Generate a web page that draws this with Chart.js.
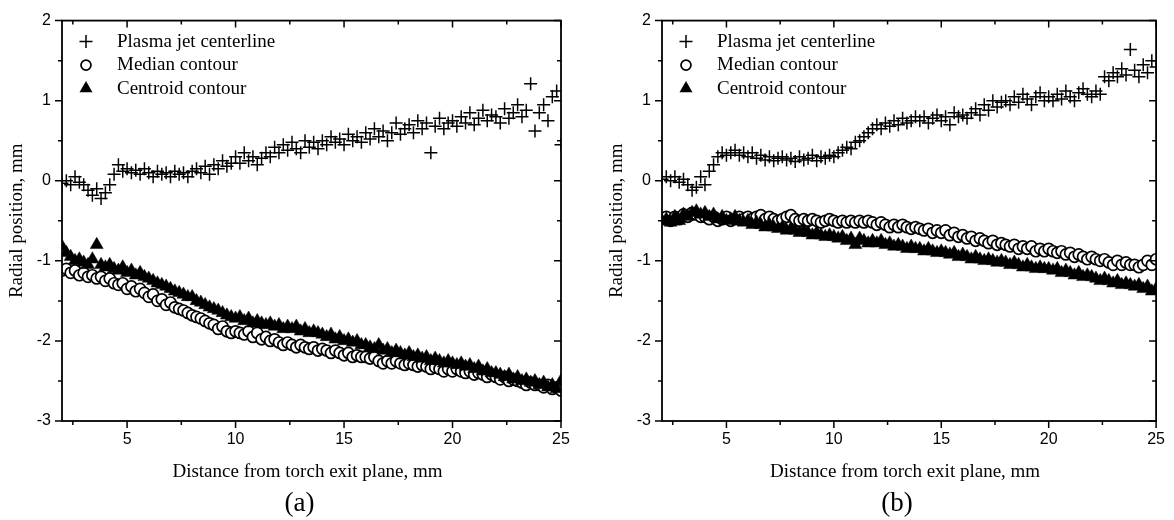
<!DOCTYPE html>
<html>
<head>
<meta charset="utf-8">
<script src="https://cdn.jsdelivr.net/npm/chart.js@4.4.1/dist/chart.umd.min.js"></script>
<style>
  body { margin: 0; background: #fff; }
  #wrap { position: relative; width: 1174px; height: 520px; }
  canvas { position: absolute; top: 0; }
</style>
</head>
<body>
<div id="wrap">
  <canvas id="chartA" width="600" height="520" style="left:0"></canvas>
  <canvas id="chartB" width="574" height="520" style="left:600px"></canvas>
</div>
<script>
// distance from torch exit plane, mm (shared by all series)
const dist = [
  2, 2.2, 2.4, 2.6, 2.8, 3, 3.2, 3.4, 3.6, 3.8,
  4, 4.2, 4.4, 4.6, 4.8, 5, 5.2, 5.4, 5.6, 5.8,
  6, 6.2, 6.4, 6.6, 6.8, 7, 7.2, 7.4, 7.6, 7.8,
  8, 8.2, 8.4, 8.6, 8.8, 9, 9.2, 9.4, 9.6, 9.8,
  10, 10.2, 10.4, 10.6, 10.8, 11, 11.2, 11.4, 11.6, 11.8,
  12, 12.2, 12.4, 12.6, 12.8, 13, 13.2, 13.4, 13.6, 13.8,
  14, 14.2, 14.4, 14.6, 14.8, 15, 15.2, 15.4, 15.6, 15.8,
  16, 16.2, 16.4, 16.6, 16.8, 17, 17.2, 17.4, 17.6, 17.8,
  18, 18.2, 18.4, 18.6, 18.8, 19, 19.2, 19.4, 19.6, 19.8,
  20, 20.2, 20.4, 20.6, 20.8, 21, 21.2, 21.4, 21.6, 21.8,
  22, 22.2, 22.4, 22.6, 22.8, 23, 23.2, 23.4, 23.6, 23.8,
  24, 24.2, 24.4, 24.6, 24.8, 25
];

// panel (a)
const centerA = [
  -0.03, 0, -0.05, 0.05, -0.02, -0.05, -0.12, -0.18, -0.1, -0.22,
  -0.15, -0.05, 0.08, 0.2, 0.12, 0.15, 0.1, 0.13, 0.08, 0.15,
  0.1, 0.05, 0.12, 0.08, 0.1, 0.05, 0.12, 0.08, 0.1, 0.05,
  0.12, 0.15, 0.1, 0.18, 0.08, 0.2, 0.15, 0.25, 0.18, 0.22,
  0.3, 0.22, 0.35, 0.25, 0.3, 0.2, 0.28, 0.35, 0.3, 0.42,
  0.35, 0.45, 0.38, 0.48, 0.4, 0.35, 0.5, 0.42, 0.48, 0.4,
  0.5, 0.45, 0.55, 0.48, 0.52, 0.45, 0.58, 0.5, 0.55, 0.48,
  0.6, 0.52, 0.65, 0.55, 0.62, 0.5, 0.6, 0.72, 0.58, 0.65,
  0.7, 0.6, 0.75, 0.65, 0.72, 0.35, 0.68, 0.78, 0.65, 0.72,
  0.75, 0.68, 0.8, 0.72, 0.85, 0.7, 0.78, 0.88, 0.75, 0.82,
  0.8, 0.72, 0.9, 0.78, 0.85, 0.95, 0.8, 0.88, 1.21, 0.62,
  0.85, 0.95, 0.75, 1.05, 1.12, 0.45
];
const medianA = [
  -1.12, -1.1, -1.15, -1.12, -1.18, -1.15, -1.2, -1.18, -1.22, -1.2,
  -1.25, -1.22, -1.28, -1.3, -1.28, -1.35, -1.32, -1.38, -1.35, -1.4,
  -1.45, -1.42, -1.5, -1.48, -1.55, -1.52, -1.58, -1.6, -1.62, -1.65,
  -1.68, -1.7, -1.72, -1.75, -1.78, -1.8, -1.85, -1.82, -1.88, -1.9,
  -1.88, -1.9, -1.92, -1.88, -1.95, -1.9, -1.98, -1.95, -2.0, -1.98,
  -2.02, -2.05, -2.02, -2.05, -2.08, -2.05, -2.08, -2.1, -2.08, -2.12,
  -2.1, -2.12, -2.15, -2.12, -2.15, -2.18, -2.15, -2.2, -2.18, -2.2,
  -2.2, -2.22, -2.2, -2.25, -2.28, -2.25, -2.28, -2.25, -2.28, -2.3,
  -2.28, -2.3, -2.32, -2.3, -2.32, -2.35, -2.33, -2.35, -2.38, -2.35,
  -2.38, -2.35, -2.38, -2.4, -2.38, -2.42, -2.4, -2.42, -2.45, -2.42,
  -2.45, -2.48, -2.45, -2.5, -2.48, -2.5, -2.52, -2.55, -2.52, -2.55,
  -2.55, -2.58, -2.55, -2.6, -2.58, -2.62
];
const centroidA = [
  -0.82, -0.9, -0.95, -1.0, -0.98, -1.02, -1.05, -0.98, -0.8, -1.05,
  -1.08, -1.05, -1.1, -1.12, -1.08, -1.15, -1.12, -1.18, -1.15, -1.2,
  -1.22, -1.25, -1.28, -1.3, -1.32, -1.35, -1.38, -1.4, -1.42, -1.45,
  -1.45, -1.5, -1.52, -1.55, -1.58, -1.6, -1.62, -1.65, -1.68, -1.7,
  -1.72, -1.7, -1.75, -1.72, -1.78, -1.75, -1.78, -1.8, -1.78, -1.82,
  -1.8, -1.85, -1.82, -1.85, -1.82, -1.88, -1.85, -1.9, -1.88, -1.9,
  -1.92, -1.95, -1.92, -1.98, -1.95, -2.0, -1.98, -2.02, -2.0, -2.05,
  -2.05, -2.08, -2.1, -2.05, -2.12, -2.1, -2.15, -2.12, -2.15, -2.18,
  -2.15, -2.2, -2.18, -2.22, -2.2, -2.25, -2.22, -2.25, -2.28, -2.25,
  -2.28, -2.3, -2.28, -2.32, -2.3, -2.35, -2.32, -2.38, -2.35, -2.4,
  -2.4, -2.42, -2.45, -2.42, -2.48, -2.45, -2.5, -2.48, -2.52, -2.5,
  -2.55, -2.52, -2.58, -2.55, -2.6, -2.5
];

// panel (b)
const centerB = [
  0.02, 0.05, 0, 0.05, -0.02, 0.02, -0.05, -0.12, -0.08, 0.05,
  -0.05, 0.12, 0.2, 0.3, 0.35, 0.32, 0.35, 0.38, 0.32, 0.35,
  0.3, 0.35, 0.28, 0.32, 0.26, 0.3, 0.25, 0.28, 0.3, 0.26,
  0.28, 0.24, 0.3, 0.26, 0.28, 0.32, 0.25, 0.3, 0.28, 0.32,
  0.3, 0.35, 0.38, 0.42, 0.4, 0.48, 0.5, 0.55, 0.6, 0.65,
  0.7, 0.65, 0.72, 0.68, 0.75, 0.7, 0.78, 0.72, 0.75, 0.8,
  0.75, 0.8, 0.72, 0.78, 0.82, 0.75, 0.8, 0.7, 0.85, 0.8,
  0.82, 0.78, 0.85, 0.9, 0.82, 0.95, 0.88, 1.0, 0.92, 0.98,
  1.0, 0.95, 1.05, 0.98, 1.08, 1.02, 0.95, 1.05, 1.1, 1.0,
  1.05, 1.0, 1.08, 1.02, 1.12, 1.05, 1.0, 1.1, 1.15, 1.08,
  1.05, 1.12, 1.08, 1.3, 1.25, 1.35, 1.3, 1.4, 1.32, 1.64,
  1.38, 1.3, 1.45, 1.35, 1.5, 1.42
];
const medianB = [
  -0.48, -0.45, -0.5, -0.45, -0.48, -0.42, -0.45, -0.4, -0.42, -0.45,
  -0.45, -0.48, -0.45, -0.5, -0.48, -0.45, -0.5, -0.48, -0.45, -0.48,
  -0.45, -0.48, -0.45, -0.43, -0.48, -0.45, -0.48, -0.5, -0.48, -0.45,
  -0.43, -0.48, -0.5, -0.48, -0.5, -0.48, -0.5, -0.52, -0.5, -0.48,
  -0.5, -0.52, -0.5, -0.52, -0.5, -0.52, -0.5, -0.52, -0.5, -0.52,
  -0.55, -0.52, -0.55, -0.58, -0.55, -0.58, -0.55, -0.58, -0.6, -0.58,
  -0.6, -0.62, -0.6, -0.65, -0.62, -0.65, -0.62, -0.68, -0.65, -0.7,
  -0.68, -0.72, -0.7, -0.75, -0.72, -0.75, -0.78, -0.75, -0.8, -0.78,
  -0.8, -0.82, -0.8, -0.85, -0.82, -0.85, -0.82, -0.88, -0.85, -0.88,
  -0.85, -0.88, -0.9, -0.88, -0.92, -0.9, -0.95, -0.92, -0.95, -0.98,
  -0.95, -0.98, -1.0, -0.98, -1.02, -1.05, -1.0, -1.05, -1.02, -1.05,
  -1.05, -1.08, -1.05, -1.0, -1.05, -0.98
];
const centroidB = [
  -0.5, -0.48, -0.52, -0.45, -0.5, -0.42, -0.45, -0.4, -0.38, -0.42,
  -0.4, -0.45, -0.42, -0.48, -0.45, -0.5, -0.48, -0.45, -0.5, -0.52,
  -0.5, -0.55, -0.52, -0.55, -0.58, -0.55, -0.58, -0.6, -0.58, -0.62,
  -0.6, -0.62, -0.65, -0.62, -0.65, -0.68, -0.65, -0.68, -0.7, -0.68,
  -0.7, -0.72, -0.7, -0.75, -0.72, -0.8, -0.72, -0.75, -0.78, -0.75,
  -0.78, -0.75, -0.8, -0.78, -0.82, -0.8, -0.82, -0.85, -0.82, -0.85,
  -0.85, -0.88, -0.85, -0.88, -0.9, -0.88, -0.9, -0.92, -0.9, -0.95,
  -0.92, -0.95, -0.98, -0.95, -0.98, -1.0, -0.98, -1.0, -1.02, -1.0,
  -1.02, -1.05, -1.02, -1.05, -1.08, -1.05, -1.08, -1.1, -1.08, -1.1,
  -1.1, -1.12, -1.1, -1.15, -1.12, -1.15, -1.18, -1.15, -1.2, -1.18,
  -1.2, -1.22, -1.25, -1.22, -1.25, -1.28, -1.25, -1.3, -1.28, -1.3,
  -1.32, -1.3, -1.35, -1.32, -1.38, -1.35
];

const xTicks = [5, 10, 15, 20, 25];
const xMinor = [2.5, 7.5, 12.5, 17.5, 22.5];
const yTicks = [-3, -2, -1, 0, 1, 2];
const yMinor = [-2.5, -1.5, -0.5, 0.5, 1.5];
const seriesNames = ['Plasma jet centerline', 'Median contour', 'Centroid contour'];
const xTitle = 'Distance from torch exit plane, mm';
const yTitle = 'Radial position, mm';

const serif = '"Liberation Serif", "Times New Roman", serif';
const sans = '"Liberation Sans", Arial, sans-serif';

function pts(ys) {
  return dist.map((d, i) => ({ x: d, y: ys[i] }));
}

// marker shapes for the hand-drawn legend
function drawMarker(ctx, kind, x, y) {
  ctx.beginPath();
  if (kind === 0) {
    ctx.lineWidth = 1.5;
    ctx.moveTo(x - 6.5, y); ctx.lineTo(x + 6.5, y);
    ctx.moveTo(x, y - 6.5); ctx.lineTo(x, y + 6.5);
    ctx.stroke();
  } else if (kind === 1) {
    ctx.lineWidth = 1.7;
    ctx.arc(x, y, 5, 0, Math.PI * 2);
    ctx.fillStyle = '#fff'; ctx.fill(); ctx.stroke();
  } else {
    const r = 7.5;
    ctx.moveTo(x, y - r);
    ctx.lineTo(x + r * 0.866, y + r * 0.5);
    ctx.lineTo(x - r * 0.866, y + r * 0.5);
    ctx.closePath();
    ctx.fillStyle = '#000'; ctx.fill();
  }
}

const decorPlugin = {
  id: 'decor',
  afterDatasetsDraw(chart, args, opts) {
    const { ctx, chartArea: a, scales: { x, y } } = chart;
    ctx.save();
    ctx.strokeStyle = '#000';
    ctx.lineWidth = 1.8;
    ctx.strokeRect(a.left, a.top, a.right - a.left, a.bottom - a.top);

    // bottom/left ticks outward, top/right ticks inward
    ctx.lineWidth = 1.5;
    ctx.beginPath();
    const xt = (vals, len) => vals.forEach(v => {
      const px = x.getPixelForValue(v);
      ctx.moveTo(px, a.bottom); ctx.lineTo(px, a.bottom + len);
      ctx.moveTo(px, a.top); ctx.lineTo(px, a.top + len);
    });
    const yt = (vals, len) => vals.forEach(v => {
      const py = y.getPixelForValue(v);
      ctx.moveTo(a.left, py); ctx.lineTo(a.left - len, py);
      ctx.moveTo(a.right, py); ctx.lineTo(a.right - len, py);
    });
    xt(xTicks, 7); xt(xMinor, 4);
    yt(yTicks, 7); yt(yMinor, 4);
    ctx.stroke();

    // legend inside the plot, top left
    ctx.fillStyle = '#000';
    ctx.font = '19px ' + serif;
    ctx.textBaseline = 'middle';
    ctx.textAlign = 'left';
    seriesNames.forEach((name, i) => {
      const ly = a.top + 21 + i * 23.5;
      ctx.strokeStyle = '#000';
      drawMarker(ctx, i, a.left + 24, ly);
      ctx.fillStyle = '#000';
      ctx.fillText(name, a.left + 55, ly);
    });

    // axis titles and panel label
    const cx = (a.left + a.right) / 2;
    ctx.textAlign = 'center';
    ctx.font = '19px ' + serif;
    ctx.fillText(xTitle, cx - 4, 472);
    ctx.save();
    ctx.translate(17, (a.top + a.bottom) / 2);
    ctx.rotate(-Math.PI / 2);
    ctx.fillText(yTitle, 0, 0);
    ctx.restore();
    ctx.font = '27px ' + serif;
    ctx.fillText(opts.label, cx - 12, 504);
    ctx.restore();
  }
};

function makeChart(id, center, median, centroid, label, padRight) {
  return new Chart(document.getElementById(id), {
    type: 'scatter',
    data: {
      datasets: [
        { label: seriesNames[2], data: pts(centroid), pointStyle: 'triangle', pointRadius: 7.5,
          backgroundColor: '#000', borderColor: '#000', borderWidth: 0.5, order: 0 },
        { label: seriesNames[1], data: pts(median), pointStyle: 'circle', pointRadius: 5.5,
          backgroundColor: '#fff', borderColor: '#000', borderWidth: 1.7, order: 1 },
        { label: seriesNames[0], data: pts(center), pointStyle: 'cross', pointRadius: 6.5,
          borderColor: '#000', borderWidth: 1.5, order: 2 }
      ]
    },
    options: {
      responsive: false,
      animation: false,
      layout: { padding: { top: 16, right: padRight, left: 0, bottom: 0 } },
      plugins: {
        legend: { display: false },
        tooltip: { enabled: false },
        decor: { label: label }
      },
      scales: {
        x: {
          type: 'linear', min: 2, max: 25,
          grid: { display: false, drawTicks: false },
          border: { display: false },
          afterBuildTicks: s => { s.ticks = xTicks.map(v => ({ value: v })); },
          afterFit: s => { s.height = 99; },
          ticks: { color: '#000', font: { family: sans, size: 16 }, padding: 9,
                   maxRotation: 0, autoSkip: false }
        },
        y: {
          type: 'linear', min: -3, max: 2,
          grid: { display: false, drawTicks: false },
          border: { display: false },
          afterBuildTicks: s => { s.ticks = yTicks.map(v => ({ value: v })); },
          afterFit: s => { s.width = 62; },
          ticks: { color: '#000', font: { family: sans, size: 16 }, padding: 11 }
        }
      }
    },
    plugins: [decorPlugin]
  });
}

makeChart('chartA', centerA, medianA, centroidA, '(a)', 39);
makeChart('chartB', centerB, medianB, centroidB, '(b)', 12);
</script>
</body>
</html>
